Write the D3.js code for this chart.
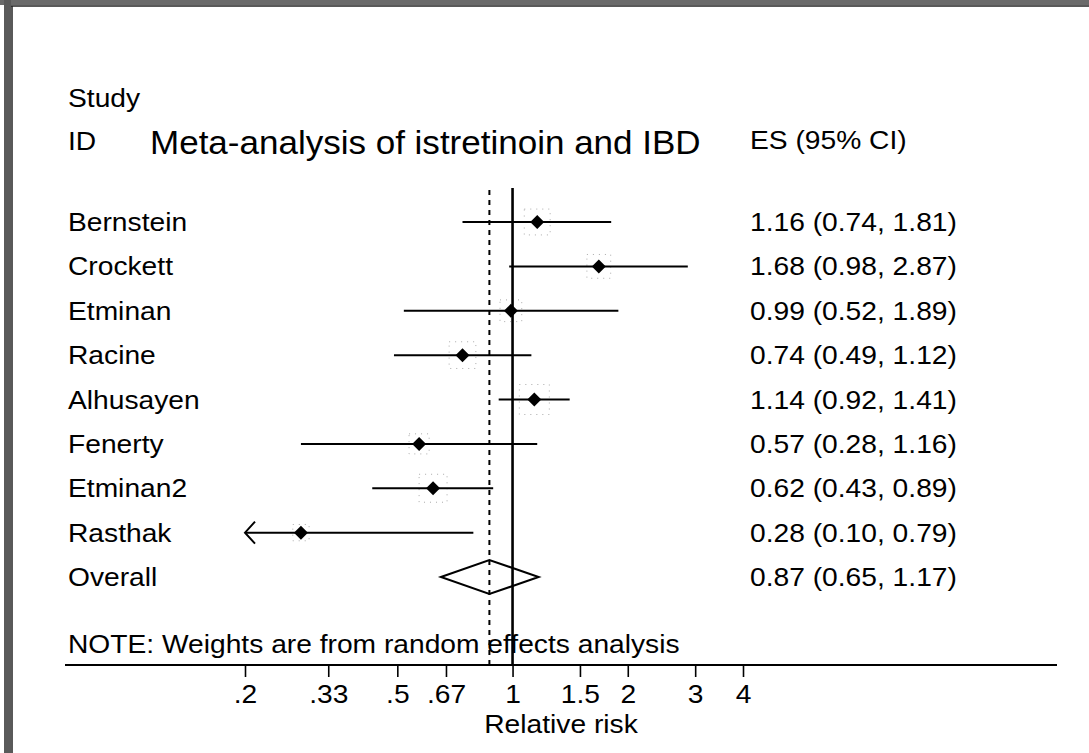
<!DOCTYPE html>
<html>
<head>
<meta charset="utf-8">
<script src="https://cdn.jsdelivr.net/npm/d3@7"></script>
<style>
  body { margin: 0; background: #fff; }
  text { font-family: "Liberation Sans", Arial, sans-serif; fill: #000; }
</style>
</head>
<body>
<div id="chart"></div>
<script>
// forest plot data
var studies = ["Bernstein", "Crockett", "Etminan", "Racine", "Alhusayen", "Fenerty", "Etminan2", "Rasthak"];
var es = [1.16, 1.68, 0.99, 0.74, 1.14, 0.57, 0.62, 0.28];
var lo = [0.74, 0.98, 0.52, 0.49, 0.92, 0.28, 0.43, 0.10];
var hi = [1.81, 2.87, 1.89, 1.12, 1.41, 1.16, 0.89, 0.79];
var weights = [13.6, 11.5, 9.6, 14.5, 18.3, 8.2, 15.9, 5.4]; // % (estimated, boxes barely visible)
var overall = {label: "Overall", es: 0.87, lo: 0.65, hi: 1.17};
var tickValues = [0.2, 0.33, 0.5, 0.67, 1, 1.5, 2, 3, 4];
var tickLabels = [".2", ".33", ".5", ".67", "1", "1.5", "2", "3", "4"];

var width = 1089, height = 753;
var sx = 1.085; // the scan is a bit stretched sideways

var svg = d3.select("#chart").append("svg")
    .attr("width", width)
    .attr("height", height);

svg.append("rect").attr("width", width).attr("height", height).attr("fill", "#fff");

// scanned page edges
svg.append("rect").attr("x", 0).attr("y", 0).attr("width", width).attr("height", 5).attr("fill", "#6a6a6a");
svg.append("rect").attr("x", 4).attr("y", 0).attr("width", 7).attr("height", height).attr("fill", "#5a5a5a");
svg.append("line").attr("x1", 11).attr("x2", width).attr("y1", 6).attr("y2", 6)
    .attr("stroke", "#222").attr("stroke-width", 1.5);
svg.append("line").attr("x1", 12).attr("x2", 12).attr("y1", 6).attr("y2", height)
    .attr("stroke", "#222").attr("stroke-width", 1.5);

var x = d3.scaleLog().domain([0.2, 4]).range([245, 743]);
var y = d3.scaleLinear().domain([0, 8]).range([222, 577]);
var boxSize = d3.scaleSqrt().domain([0, d3.max(weights)]).range([0, 30]);

var rows = studies.map(function(s, i) {
  return {label: s, es: es[i], lo: lo[i], hi: hi[i], w: weights[i], i: i};
});

var fmt = d3.format(".2f");
var fs = 26;

function label(px, py, size, str, anchor, k) {
  return svg.append("text")
      .attr("transform", "translate(" + px + "," + py + ") scale(" + (k || sx) + ",1)")
      .attr("font-size", size)
      .attr("text-anchor", anchor || "start")
      .text(str);
}

// headers
label(68, 107, fs, "Study");
label(68, 150, fs, "ID");
label(150, 154, 34, "Meta-analysis of istretinoin and IBD", "start", 1.03);
label(750, 149, fs, "ES (95% CI)");

var g = svg.append("g");

// weight boxes (faint in the scan)
g.selectAll(".box")
    .data(rows)
    .enter().append("rect")
    .attr("class", "box")
    .attr("x", function(d) { return x(d.es) - boxSize(d.w) / 2; })
    .attr("y", function(d) { return y(d.i) - boxSize(d.w) / 2; })
    .attr("width", function(d) { return boxSize(d.w); })
    .attr("height", function(d) { return boxSize(d.w); })
    .attr("fill", "none")
    .attr("stroke", "#aaa")
    .attr("stroke-width", 1)
    .attr("stroke-dasharray", "1,5");

// confidence intervals
g.selectAll(".ci")
    .data(rows)
    .enter().append("line")
    .attr("class", "ci")
    .attr("x1", function(d) { return x(Math.max(d.lo, x.domain()[0])); })
    .attr("x2", function(d) { return x(Math.min(d.hi, x.domain()[1])); })
    .attr("y1", function(d) { return y(d.i); })
    .attr("y2", function(d) { return y(d.i); })
    .attr("stroke", "#000")
    .attr("stroke-width", 2);

// arrows for clipped intervals
g.selectAll(".arrow")
    .data(rows.filter(function(d) { return d.lo < x.domain()[0]; }))
    .enter().append("path")
    .attr("class", "arrow")
    .attr("d", function(d) {
      var x0 = x(x.domain()[0]), y0 = y(d.i);
      return "M" + (x0 + 10) + "," + (y0 - 11) + "L" + x0 + "," + y0 + "L" + (x0 + 10) + "," + (y0 + 11);
    })
    .attr("fill", "none")
    .attr("stroke", "#000")
    .attr("stroke-width", 2);

// null line and overall effect line
svg.append("line")
    .attr("x1", x(1)).attr("x2", x(1))
    .attr("y1", 188).attr("y2", 665)
    .attr("stroke", "#000").attr("stroke-width", 2.6);
svg.append("line")
    .attr("x1", x(overall.es)).attr("x2", x(overall.es))
    .attr("y1", 190).attr("y2", 665)
    .attr("stroke", "#000").attr("stroke-width", 2)
    .attr("stroke-dasharray", "5,5");

// point estimates
g.selectAll(".pt")
    .data(rows)
    .enter().append("path")
    .attr("class", "pt")
    .attr("transform", function(d) { return "translate(" + x(d.es) + "," + y(d.i) + ")"; })
    .attr("d", "M0,-7L7,0L0,7L-7,0Z")
    .attr("fill", "#000");

// overall diamond
var oy = y(8);
svg.append("path")
    .attr("d", "M" + x(overall.lo) + "," + oy +
               "L" + x(overall.es) + "," + (oy - 17) +
               "L" + x(overall.hi) + "," + oy +
               "L" + x(overall.es) + "," + (oy + 17) + "Z")
    .attr("fill", "none")
    .attr("stroke", "#000")
    .attr("stroke-width", 2);

// study labels and ES text
var all = rows.concat([{label: overall.label, es: overall.es, lo: overall.lo, hi: overall.hi, i: 8}]);
all.forEach(function(d) {
  label(68, y(d.i) + 9, fs, d.label);
  label(750, y(d.i) + 9, fs, fmt(d.es) + " (" + fmt(d.lo) + ", " + fmt(d.hi) + ")");
});

label(68, 653, fs, "NOTE: Weights are from random effects analysis");

// x axis
svg.append("line").attr("x1", 65).attr("x2", 1057).attr("y1", 665).attr("y2", 665)
    .attr("stroke", "#000").attr("stroke-width", 2);
var axis = svg.append("g")
    .attr("transform", "translate(0,665)")
    .call(d3.axisBottom(x).tickValues(tickValues)
      .tickFormat(function(d, i) { return tickLabels[i]; })
      .tickSize(12).tickPadding(8));
axis.select(".domain").remove();
axis.selectAll(".tick line").attr("stroke", "#000").attr("stroke-width", 1.6);
axis.selectAll(".tick text")
    .attr("font-family", "Liberation Sans, Arial, sans-serif")
    .attr("font-size", fs)
    .attr("fill", "#000")
    .attr("transform", "scale(" + sx + ",1)");

label(561, 733, fs, "Relative risk", "middle");
</script>
</body>
</html>
